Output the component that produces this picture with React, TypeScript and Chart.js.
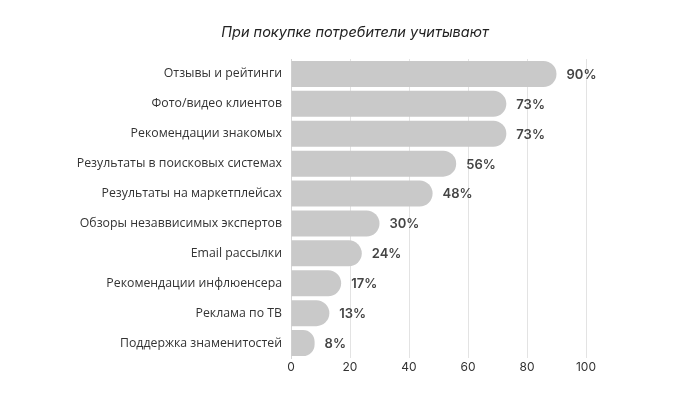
import React, { useEffect, useRef } from "react";
import { Chart, registerables } from "chart.js";

Chart.register(...registerables);

const TITLE = "При покупке потребители учитывают";
const CATEGORIES = [
  "Отзывы и рейтинги",
  "Фото/видео клиентов",
  "Рекомендации знакомых",
  "Результаты в поисковых системах",
  "Результаты на маркетплейсах",
  "Обзоры незаввисимых экспертов",
  "Email рассылки",
  "Рекомендации инфлюенсера",
  "Реклама по ТВ",
  "Поддержка знаменитостей",
];
const VALUES = [90, 73, 73, 56, 48, 30, 24, 17, 13, 8];
const X_MIN = 0;
const X_MAX = 100;
const X_STEP = 20;

const titlePlugin = {
  id: "customTitle",
  afterDraw(chart: any) {
    const ctx = chart.ctx;
    ctx.save();
    ctx.font = "italic 14.5px Inter, Roboto, sans-serif";
    ctx.fillStyle = "#222";
    ctx.textAlign = "center";
    ctx.textBaseline = "middle";
    ctx.fillText(TITLE, 355, 33);
    ctx.restore();
  },
};

const valueLabels = {
  id: "valueLabels",
  afterDatasetsDraw(chart: any) {
    const ctx = chart.ctx;
    const meta = chart.getDatasetMeta(0);
    ctx.save();
    ctx.font = "600 13px Inter, Roboto, sans-serif";
    ctx.fillStyle = "#444";
    ctx.textAlign = "left";
    ctx.textBaseline = "middle";
    meta.data.forEach((el: any, i: number) => {
      ctx.fillText(VALUES[i] + "%", el.x + 10, el.y + 1);
    });
    ctx.restore();
  },
};

export default function App() {
  const ref = useRef<HTMLCanvasElement>(null);
  useEffect(() => {
    document.body.style.margin = "0";
    const chart = new Chart(ref.current!, {
      type: "bar",
      data: {
        labels: CATEGORIES,
        datasets: [
          {
            data: VALUES,
            backgroundColor: "#c9c9c9",
            borderRadius: 13,
            borderSkipped: "start",
            barPercentage: 0.87,
            categoryPercentage: 1,
          },
        ],
      },
      options: {
        indexAxis: "y",
        responsive: false,
        animation: false,
        layout: { padding: { top: 59, right: 114, bottom: 0, left: 0 } },
        plugins: {
          legend: { display: false },
          title: { display: false },
          tooltip: { enabled: false },
        },
        scales: {
          x: {
            min: X_MIN,
            max: X_MAX,
            ticks: {
              stepSize: X_STEP,
              padding: 2,
              color: "#333",
              font: { family: "Inter, Roboto, sans-serif", size: 12 },
            },
            grid: { color: "#e3e3e3", drawTicks: false },
            border: { display: false },
            afterFit: (s: any) => {
              s.height = 36;
            },
          },
          y: {
            ticks: {
              padding: 9,
              color: "#333",
              font: { family: "'Open Sans', sans-serif", size: 12.3 },
            },
            grid: { display: false, drawTicks: false },
            border: { display: true, color: "#d5d5d5" },
            afterFit: (s: any) => {
              s.width = 291;
            },
          },
        },
      },
      plugins: [titlePlugin, valueLabels],
    });
    return () => chart.destroy();
  }, []);
  return (
    <div style={{ position: "absolute", left: 0, top: 0, width: 700, height: 394, background: "#fff" }}>
      <canvas ref={ref} width={700} height={394} />
    </div>
  );
}
